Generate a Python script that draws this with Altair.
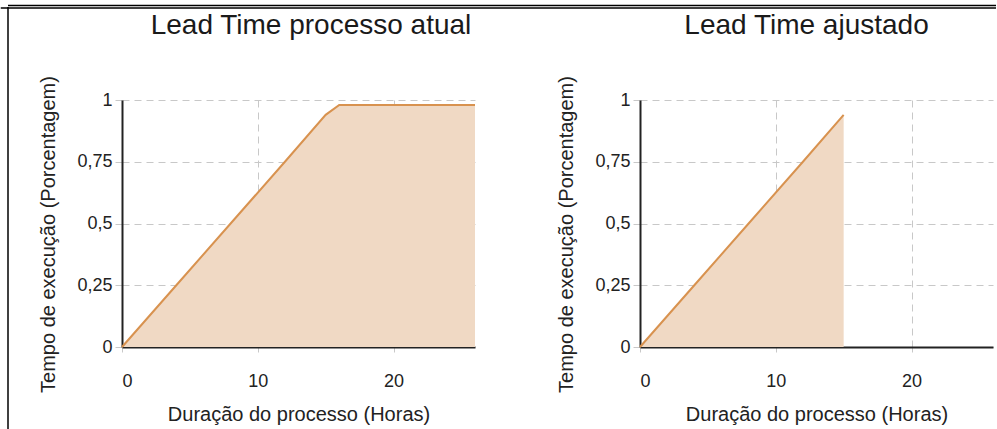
import altair as alt
import pandas as pd

# ---- data ----
x_atual = [0, 4, 8, 12, 15, 16, 26]
y_atual = [0, 0.25, 0.5, 0.75, 0.94, 0.98, 0.98]
x_ajustado = [0, 4, 8, 12, 15]
y_ajustado = [0, 0.25, 0.5, 0.75, 0.94]

title_atual = "Lead Time processo atual"
title_ajustado = "Lead Time ajustado"
x_title = "Duração do processo (Horas)"
y_title = "Tempo de execução (Porcentagem)"
x_ticks = [0, 10, 20]
y_ticks = [0, 0.25, 0.5, 0.75, 1]
x_domain = [0, 26]
y_domain = [0, 1]

# ---- style ----
FONT = "Liberation Sans"
FILL = "#F0D9C4"
LINE = "#D8924F"
GRID = "#C8C8C8"
AXIS = "#222222"
TEXT = "#222222"
W, H = 353, 247

one = pd.DataFrame({"k": [0]})


def panel(xs, ys):
    df = pd.DataFrame({"x": xs, "y": ys})
    return alt.Chart(df).mark_area(
        color=FILL, fillOpacity=1, interpolate="linear",
        line={"color": LINE, "strokeWidth": 2},
    ).encode(
        x=alt.X("x:Q",
                scale=alt.Scale(domain=x_domain, nice=False, zero=False),
                axis=alt.Axis(values=x_ticks, title=x_title, grid=True,
                              gridColor=GRID, gridDash=[7, 5], gridWidth=1,
                              domainColor=AXIS, domainWidth=2,
                              tickColor=GRID, tickSize=5, tickWidth=1,
                              labelFont=FONT, labelFontSize=18, labelColor=TEXT,
                              labelPadding=20, labelFlush=True,
                              titleFont=FONT, titleFontSize=20, titleFontWeight="normal",
                              titleColor=TEXT, titlePadding=14)),
        y=alt.Y("y:Q",
                scale=alt.Scale(domain=y_domain, nice=False),
                axis=alt.Axis(values=y_ticks, title=y_title, grid=True,
                              labelExpr="replace(format(datum.value, '~g'), '.', ',')",
                              gridColor=GRID, gridDash=[7, 5], gridWidth=1,
                              domainColor=AXIS, domainWidth=2,
                              tickColor=GRID, tickSize=7, tickWidth=1, tickDash=[7, 5],
                              labelFont=FONT, labelFontSize=18, labelColor=TEXT,
                              labelPadding=3, labelFlush=False,
                              titleFont=FONT, titleFontSize=20, titleFontWeight="normal",
                              titleColor=TEXT, titlePadding=18, titleY=134)),
    )


def title_text(text, dx):
    return alt.Chart(one).mark_text(
        font=FONT, fontSize=28, color="#1a1a1a", align="center", baseline="alphabetic",
    ).encode(x=alt.value(W / 2 + dx), y=alt.value(-66), text=alt.value(text))


# page frame lines (decoration around the figure)
top1 = alt.Chart(one).mark_rule(color="#000", strokeWidth=1.5).encode(
    x=alt.value(-114), x2=alt.value(874), y=alt.value(-94.5))
top2 = alt.Chart(one).mark_rule(color="#000", strokeWidth=1.5).encode(
    x=alt.value(-121.25), x2=alt.value(874), y=alt.value(-92))
left_edge = alt.Chart(one).mark_rule(color="#000", strokeWidth=1.5).encode(
    x=alt.value(-114), y=alt.value(-93), y2=alt.value(329))

left = alt.layer(panel(x_atual, y_atual), title_text(title_atual, 12.5),
                 top1, top2, left_edge).properties(width=W, height=H)
right = alt.layer(panel(x_ajustado, y_ajustado),
                  title_text(title_ajustado, -10)).properties(width=W, height=H)

chart = alt.hconcat(left, right, spacing=165, bounds="flush").properties(
    padding={"left": 0, "top": 4, "right": 0, "bottom": 0},
    background="white",
).configure_view(stroke=None)

chart.save("out.html", embed_options={"renderer": "svg", "actions": False})
